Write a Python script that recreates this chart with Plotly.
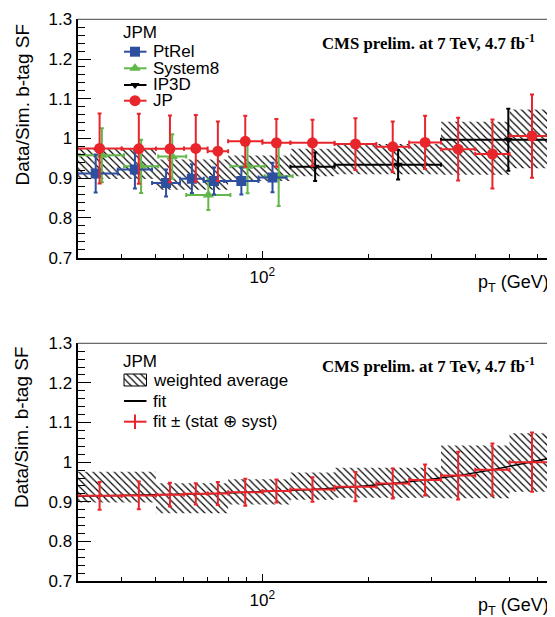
import math
import plotly.graph_objects as go

# ---------------- data ----------------
# JP (red circles)
jp_lo = [30, 40, 50, 60, 70, 80, 100, 120, 160, 210, 260, 320, 400, 500]
jp_hi = [40, 50, 60, 70, 80, 100, 120, 160, 210, 260, 320, 400, 500, 670]
jp_sf = [0.975, 0.974, 0.974, 0.975, 0.968, 0.993, 0.989, 0.989, 0.986, 0.979, 0.990, 0.973, 0.961, 1.006]
jp_err = [0.088, 0.088, 0.084, 0.084, 0.075, 0.064, 0.060, 0.058, 0.065, 0.064, 0.067, 0.079, 0.087, 0.105]

# PtRel (blue squares)
ptrel_lo = [30, 40, 50, 60, 70, 80, 100]
ptrel_hi = [40, 50, 60, 70, 80, 100, 120]
ptrel_sf = [0.912, 0.922, 0.888, 0.899, 0.893, 0.893, 0.902]
ptrel_err = [0.048, 0.048, 0.034, 0.036, 0.034, 0.034, 0.037]

# System8 (green triangles)
s8_lo = [30, 40, 50, 60, 80, 100]
s8_hi = [40, 50, 60, 80, 100, 120]
s8_sf = [0.958, 0.930, 0.955, 0.858, 0.930, 0.905]
s8_err = [0.068, 0.067, 0.056, 0.038, 0.068, 0.075]

# IP3D (black down-triangles)
ip3d_lo = [120, 160, 320]
ip3d_hi = [160, 320, 670]
ip3d_pt = [141, 242, 496]
ip3d_sf = [0.929, 0.934, 0.997]
ip3d_err = [0.036, 0.037, 0.078]

# weighted average band
wavg_lo = [30, 50, 80, 120, 160, 320, 500]
wavg_hi = [50, 80, 120, 160, 320, 500, 670]
wavg_down = [0.898, 0.871, 0.893, 0.905, 0.910, 0.909, 0.925]
wavg_up = [0.976, 0.947, 0.957, 0.974, 0.986, 1.042, 1.073]

# fit and fit +- (stat (+) syst), at JP bins
fit_pt = [30, 34.6, 44.7, 54.8, 64.8, 74.8, 89.4, 109.5, 138.6, 183.3, 233.7, 288.4, 357.8, 447.2, 578.8, 670]
fit_sf = [0.914, 0.915, 0.916, 0.918, 0.920, 0.921, 0.924, 0.927, 0.931, 0.938, 0.946, 0.955, 0.966, 0.981, 1.000, 1.012]
fitband_err = [0.035, 0.035, 0.030, 0.027, 0.029, 0.034, 0.029, 0.031, 0.037, 0.038, 0.039, 0.060, 0.066, 0.075]

y_ticks = [0.7, 0.8, 0.9, 1.0, 1.1, 1.2, 1.3]
y_ticktext = ["0.7", "0.8", "0.9", "1", "1.1", "1.2", "1.3"]
x_major = [100]
x_major_text = ["10<sup>2</sup>"]
x_minor = [40, 50, 60, 70, 80, 90, 200, 300, 400, 500, 600]

# ---------------- style / layout geometry ----------------
OX, OY = 8, 8            # page body margin of the html page
FW, FH = 547, 609        # figure size so that it fits in the window
BLUE = "#2d4fa0"
GREEN = "#62b74a"
RED = "#e8252b"
BLACK = "#000000"
SANS = "Liberation Sans, Arial, sans-serif"
SERIF = "Liberation Serif, Times New Roman, serif"

X0, X1 = 77.5, 554.5      # window pixel coords of the frames
TOP = (19.3, 257.7)
BOT = (343.3, 581.0)


def fx(X):
    return (X - OX) / FW


def fy(Y):
    return 1 - (Y - OY) / FH


def ydom(p):
    return [fy(p[1]), fy(p[0])]


def centers(lo, hi, shift=1.0):
    return [math.sqrt(a * b) * shift for a, b in zip(lo, hi)]


HATCH = dict(shape="\\", fgcolor="black", bgcolor="rgba(0,0,0,0)", size=5, solidity=0.24)

fig = go.Figure()


def band(xa, ya):
    xs, ys = [], []
    for lo, hi, d, u in zip(wavg_lo, wavg_hi, wavg_down, wavg_up):
        xs += [lo, hi, hi, lo, lo, None]
        ys += [d, d, u, u, d, None]
    fig.add_trace(go.Scatter(
        x=xs, y=ys, mode="lines", fill="toself", line=dict(width=0, color="rgba(0,0,0,0)"),
        fillcolor="rgba(0,0,0,0)", fillpattern=HATCH,
        xaxis=xa, yaxis=ya, showlegend=False, hoverinfo="skip"))


def points(lo, hi, xc, sf, err, color, symbol, size, xa, ya):
    fig.add_trace(go.Scatter(
        x=xc, y=sf, mode="markers",
        marker=dict(symbol=symbol, size=size, color=color, line=dict(width=0)),
        error_x=dict(type="data", symmetric=False,
                     array=[h - c for h, c in zip(hi, xc)],
                     arrayminus=[c - l for c, l in zip(xc, lo)],
                     color=color, thickness=2, width=2),
        error_y=dict(type="data", array=err, color=color, thickness=2, width=2),
        xaxis=xa, yaxis=ya, showlegend=False))


# ---- top panel ----
band("x", "y")
s8_x = centers(s8_lo, s8_hi, 1.015)
points([l * 1.015 for l in s8_lo], [h * 1.015 for h in s8_hi], s8_x, s8_sf, s8_err, GREEN, "triangle-up", 10, "x", "y")
pr_x = centers(ptrel_lo, ptrel_hi, 0.975)
points([max(l * 0.975, 30) for l in ptrel_lo], [h * 0.975 for h in ptrel_hi], pr_x, ptrel_sf, ptrel_err, BLUE, "square", 10, "x", "y")
points(ip3d_lo, ip3d_hi, ip3d_pt, ip3d_sf, ip3d_err, BLACK, "triangle-down", 8, "x", "y")
points(jp_lo, jp_hi, centers(jp_lo, jp_hi), jp_sf, jp_err, RED, "circle", 11, "x", "y")

# ---- bottom panel ----
band("x2", "y2")
fig.add_trace(go.Scatter(x=fit_pt, y=fit_sf, mode="lines", line=dict(color="black", width=1.5),
                         xaxis="x2", yaxis="y2", showlegend=False))
jc = centers(jp_lo, jp_hi)
fig.add_trace(go.Scatter(
    x=jc, y=fit_sf[1:-1], mode="markers", marker=dict(size=1, color=RED),
    error_x=dict(type="data", symmetric=False,
                 array=[h - c for h, c in zip(jp_hi, jc)],
                 arrayminus=[c - l for c, l in zip(jc, jp_lo)],
                 color=RED, thickness=2, width=2),
    error_y=dict(type="data", array=fitband_err, color=RED, thickness=2, width=2),
    xaxis="x2", yaxis="y2", showlegend=False))

# ---- legends on a pixel overlay axis (window pixel coords) ----
LX0, LX1, LXM, LTX = 124, 146.5, 135, 151


def leg_marker(y, color, symbol, size):
    fig.add_trace(go.Scatter(x=[LX0, LX1], y=[y, y], mode="lines", line=dict(color=color, width=2),
                             xaxis="x3", yaxis="y3", showlegend=False, hoverinfo="skip"))
    fig.add_trace(go.Scatter(x=[LXM], y=[y], mode="markers", marker=dict(symbol=symbol, size=size, color=color),
                             xaxis="x3", yaxis="y3", showlegend=False, hoverinfo="skip"))


ann = []


def text(x, y, s, size=17, xanchor="left", font=SANS, bold=False):
    ann.append(dict(x=fx(x), y=fy(y), xref="paper", yref="paper", text=("<b>%s</b>" % s) if bold else s,
                    showarrow=False, xanchor=xanchor, yanchor="middle",
                    font=dict(family=font, size=size, color="black")))


text(121, 33, "JPM")
for yy, name, col, sym, sz in [(51.7, "PtRel", BLUE, "square", 10), (68.3, "System8", GREEN, "triangle-up", 10),
                               (85, "IP3D", BLACK, "triangle-down", 8), (100.7, "JP", RED, "circle", 11)]:
    leg_marker(yy, col, sym, sz)
    text(LTX, yy, name)

text(121, 361.7, "JPM")
fig.add_trace(go.Scatter(x=[LX0, LX1, LX1, LX0, LX0], y=[374, 374, 386, 386, 374], mode="lines", fill="toself",
                         line=dict(color="black", width=1), fillcolor="rgba(0,0,0,0)", fillpattern=HATCH,
                         xaxis="x3", yaxis="y3", showlegend=False, hoverinfo="skip"))
text(LTX, 380, "weighted average")
fig.add_trace(go.Scatter(x=[LX0, LX1], y=[401, 401], mode="lines", line=dict(color="black", width=2),
                         xaxis="x3", yaxis="y3", showlegend=False, hoverinfo="skip"))
text(LTX, 401, "fit")
fig.add_trace(go.Scatter(x=[LX0, LX1, None, LXM, LXM], y=[421.7, 421.7, None, 414.5, 429], mode="lines",
                         line=dict(color=RED, width=2), xaxis="x3", yaxis="y3", showlegend=False, hoverinfo="skip"))
text(LTX, 421.7, "fit ± (stat ⊕ syst)")

for yc in (42, 366):
    text(319.5, yc, "CMS prelim. at 7 TeV, 4.7 fb<sup>-1</sup>", size=16.8, font=SERIF, bold=True)
for yc in (283, 606):
    text(551, yc, "p<sub>T</sub> (GeV)", size=18, xanchor="right")
for yc in (105, 427.5):
    ann.append(dict(x=fx(21.5), y=fy(yc), xref="paper", yref="paper", text="Data/Sim. b-tag SF",
                    textangle=-90, showarrow=False, xanchor="center", yanchor="middle",
                    font=dict(family=SANS, size=19, color="black")))

shapes = []
for p in (TOP, BOT):
    shapes.append(dict(type="line", xref="paper", yref="paper", x0=fx(X0), x1=1, y0=fy(p[0]), y1=fy(p[0]),
                       line=dict(color="#444", width=1)))

xcommon = dict(type="log", range=[math.log10(30), math.log10(670)], domain=[fx(X0), min(1, fx(X1))],
               showline=True, linecolor="black", linewidth=2, showgrid=False, zeroline=False, automargin=False,
               tickmode="array", tickvals=x_major, ticktext=x_major_text, ticks="inside", ticklen=7,
               tickwidth=1, tickcolor="black", tickfont=dict(family=SANS, size=17, color="black"),
               ticklabelstandoff=3,
               minor=dict(tickmode="array", tickvals=x_minor, ticks="inside", ticklen=4, tickwidth=1,
                          tickcolor="black", showgrid=False))
ycommon = dict(range=[0.7, 1.3], showline=True, linecolor="black", linewidth=2, showgrid=False, zeroline=False,
               automargin=False,
               tickmode="array", tickvals=y_ticks, ticktext=y_ticktext, ticks="inside", ticklen=13, tickwidth=1,
               tickcolor="black", tickfont=dict(family=SANS, size=17, color="black"),
               minor=dict(dtick=0.02, tick0=0.7, ticks="inside", ticklen=7, tickwidth=1, tickcolor="black",
                          showgrid=False))

fig.update_layout(
    template="none",
    width=FW, height=FH, margin=dict(l=0, r=0, t=0, b=0, pad=0, autoexpand=False),
    paper_bgcolor="white", plot_bgcolor="rgba(0,0,0,0)",
    xaxis=dict(anchor="y", **xcommon),
    yaxis=dict(anchor="x", domain=ydom(TOP), **ycommon),
    xaxis2=dict(anchor="y2", **xcommon),
    yaxis2=dict(anchor="x2", domain=ydom(BOT), **ycommon),
    xaxis3=dict(anchor="y3", domain=[0, 1], range=[OX, OX + FW], visible=False, fixedrange=True, automargin=False),
    yaxis3=dict(anchor="x3", domain=[0, 1], range=[OY + FH, OY], visible=False, fixedrange=True, automargin=False),
    annotations=ann, shapes=shapes, showlegend=False,
)

fig.write_html("out.html")
